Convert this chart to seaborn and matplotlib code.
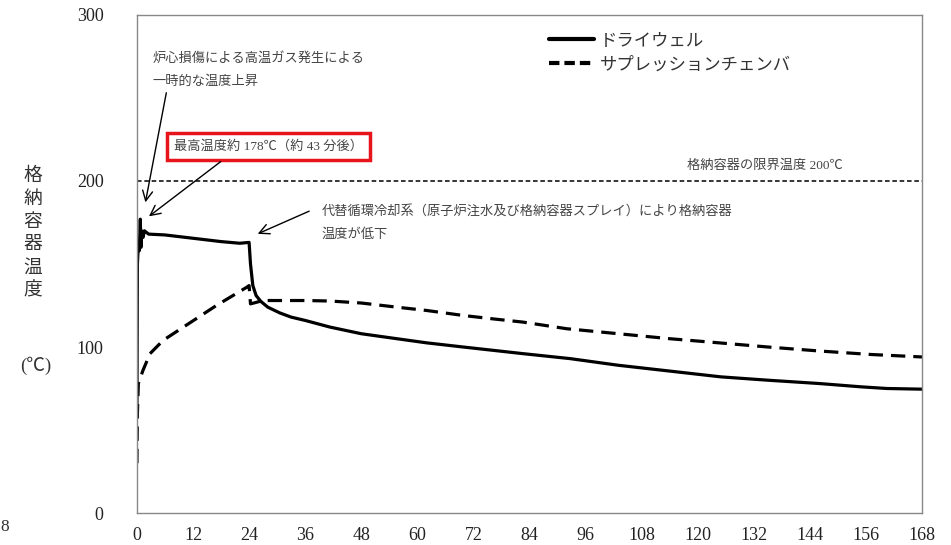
import numpy as np
import pandas as pd
import matplotlib
matplotlib.use("Agg")
import matplotlib.pyplot as plt
import seaborn as sns
from matplotlib.lines import Line2D

# Drywell temperature (hours, degC)
dw_hours = [0, 0.1, 0.3, 0.5, 0.72, 0.85, 1.0, 1.3, 1.6, 2.5, 6, 12, 18, 22, 24.0,
            24.3, 24.8, 25.5, 26.5, 28, 30.6, 33, 36, 41.3, 48, 55.6, 62, 69.8, 82.6,
            92.7, 103, 114, 125, 135, 146, 155, 160.5, 168]
dw_temp = [58, 150, 162, 158, 177, 160, 170, 166, 170, 168, 167.5, 165.5, 163.5, 162.5, 163,
           150, 137, 131, 127.5, 124, 120.5, 118, 116, 112, 108, 105, 102.5, 100, 96,
           93, 89, 85.5, 82, 80, 78, 76, 75, 74.6]

# Suppression chamber temperature (hours, degC)
sc_hours = [0, 0.1, 0.3, 0.8, 1.3, 2.8, 5.6, 11.3, 17, 23.5, 24.0, 24.3, 25, 27, 36,
            41.3, 48, 55.6, 62, 69.8, 76, 82.6, 92, 103, 114, 125, 135, 146, 157, 168]
sc_temp = [30, 60, 78, 82, 86, 96, 104, 114.5, 125, 136, 137, 126, 126.5, 128, 128,
           127.7, 126.5, 124, 122, 119, 117, 115, 111, 108, 105, 102.4, 100, 97.6, 95.5, 94]

x_ticks = list(range(0, 169, 12))
y_ticks = [0, 100, 200, 300]
limit_temp = 200

series_labels = ["ドライウェル", "サプレッションチェンバ"]

sns.set_style("white")
plt.rcParams['font.family'] = ['Liberation Serif', 'Noto Sans CJK JP', 'DejaVu Sans']

fig = plt.figure(figsize=(9.51, 5.45), dpi=100)
ax = fig.add_axes([0.144, 0.0587, 0.8255, 0.9138])

dw = pd.DataFrame({"hours": dw_hours, "temp": dw_temp})
sc = pd.DataFrame({"hours": sc_hours, "temp": sc_temp})

sns.lineplot(data=dw, x="hours", y="temp", ax=ax, color="black", lw=2.3)
sns.lineplot(data=sc, x="hours", y="temp", ax=ax, color="black", lw=2.3)
ax.lines[-1].set_dashes((4.5, 2.5))

ax.axhline(limit_temp, color="black", lw=1.1, dashes=(3, 1.8))

ax.set_xlim(0, 168)
ax.set_ylim(0, 300)
ax.set_xticks(x_ticks)
ax.set_yticks(y_ticks)
ax.set_xlabel("")
ax.set_ylabel("")
ax.tick_params(axis="both", direction="in", length=4, width=0.8, color="#777777",
               labelsize=13, labelcolor="#222222")
ax.tick_params(axis="y", pad=24)
ax.tick_params(axis="x", pad=10)
for s in ax.spines.values():
    s.set_color("#888888")
    s.set_linewidth(1.0)

# Legend
handles = [Line2D([], [], color="black", lw=3),
           Line2D([], [], color="black", lw=3, dashes=(2.5, 1.2))]
ax.legend(handles, series_labels, loc="upper left",
          bbox_to_anchor=(0.505, 0.995), frameon=False, fontsize=12.5,
          handlelength=2.6, handletextpad=0.3, labelspacing=0.45,
          labelcolor="#333333")

txt_color = "#444444"
fs = 9.5
arrow_kw = dict(arrowstyle="->", color="black", lw=1.0, mutation_scale=18)

# Annotation: temporary temperature rise
ax.text(3.4, 274, "炉心損傷による高温ガス発生による", fontsize=fs, color=txt_color,
        va="center", ha="left")
ax.text(3.4, 259.6, "一時的な温度上昇", fontsize=fs, color=txt_color,
        va="center", ha="left")
ax.annotate("", xy=(1.7, 185.5), xytext=(6.4, 254.8), arrowprops=arrow_kw)

# Annotation: max temperature (red box)
ax.text(28.2, 221, "最高温度約 178℃（約 43 分後）", fontsize=fs, color=txt_color,
        va="center", ha="center",
        bbox=dict(boxstyle="square,pad=0.55", facecolor="white",
                  edgecolor="#e8141c", lw=2.5))
ax.annotate("", xy=(2.1, 177.7), xytext=(18.4, 212.7), arrowprops=arrow_kw)

# Annotation: cooling system
ax.text(39.6, 182, "代替循環冷却系（原子炉注水及び格納容器スプレイ）により格納容器",
        fontsize=fs, color=txt_color, va="center", ha="left")
ax.text(39.6, 168, "温度が低下", fontsize=fs, color=txt_color, va="center", ha="left")
ax.annotate("", xy=(25.3, 167.5), xytext=(37.4, 182.5), arrowprops=arrow_kw)

# Annotation: limit temperature
ax.text(134.4, 209.6, "格納容器の限界温度 200℃", fontsize=fs, color=txt_color,
        va="center", ha="center")

# Y axis label stacked vertically
ylabel_chars = "格納容器温度"
for i, ch in enumerate(ylabel_chars):
    fig.text(33 / 951, 1 - (176 + i * 23) / 545, ch, fontsize=13.5, color="#333333",
             ha="center", va="center")
fig.text(36 / 951, 1 - 366 / 545, "(℃)", fontsize=13.5, color="#333333",
         ha="center", va="center")

# page number remnant at the bottom-left
fig.text(5 / 951, 1 - 527 / 545, "8", fontsize=12.5, color="#333333",
         ha="center", va="center")

fig.savefig("out.png", dpi=100)
